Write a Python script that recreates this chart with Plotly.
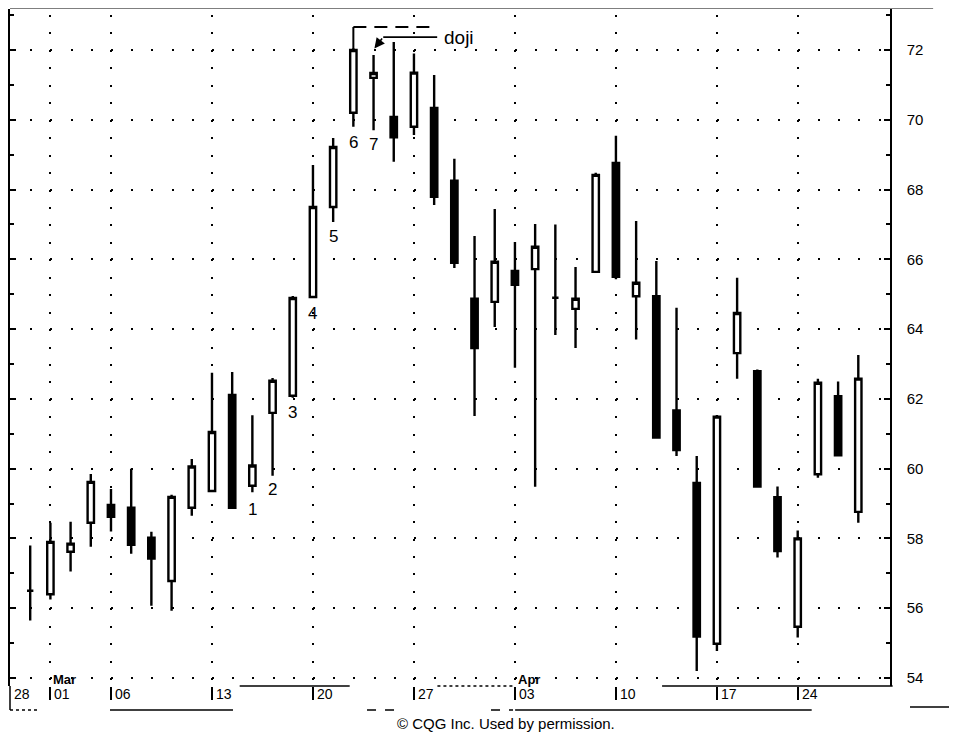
import plotly.graph_objects as go

# ---------------- data ----------------
dates = [
    "2000-02-29", "2000-03-01", "2000-03-02", "2000-03-03",
    "2000-03-06", "2000-03-07", "2000-03-08", "2000-03-09", "2000-03-10",
    "2000-03-13", "2000-03-14", "2000-03-15", "2000-03-16", "2000-03-17",
    "2000-03-20", "2000-03-21", "2000-03-22", "2000-03-23", "2000-03-24",
    "2000-03-27", "2000-03-28", "2000-03-29", "2000-03-30", "2000-03-31",
    "2000-04-03", "2000-04-04", "2000-04-05", "2000-04-06", "2000-04-07",
    "2000-04-10", "2000-04-11", "2000-04-12", "2000-04-13", "2000-04-14",
    "2000-04-17", "2000-04-18", "2000-04-19", "2000-04-20",
    "2000-04-24", "2000-04-25", "2000-04-26", "2000-04-27",
]
opens = [
    56.50, 56.40, 57.62, 58.45,
    58.96, 58.88, 58.02, 56.78, 58.88,
    59.36, 62.11, 59.51, 61.60, 62.09,
    64.92, 67.50, 70.20, 71.20, 70.08,
    69.80, 70.34, 68.25, 64.87, 64.78,
    65.67, 65.72, 64.90, 64.58, 65.64,
    68.76, 64.94, 64.94, 61.67, 59.59,
    54.98, 63.31, 62.79, 59.18,
    55.47, 59.84, 62.08, 58.76,
]
highs = [
    57.80, 58.45, 58.48, 59.85,
    59.42, 60.00, 58.19, 59.25, 60.28,
    62.75, 62.77, 61.53, 62.60, 64.95,
    68.70, 69.48, 72.05, 71.86, 72.23,
    71.90, 71.28, 68.88, 66.67, 67.44,
    66.50, 67.01, 67.00, 65.78, 68.48,
    69.54, 67.10, 65.95, 64.61, 60.36,
    61.54, 65.47, 62.84, 59.49,
    58.23, 62.58, 62.50, 63.26,
]
lows = [
    55.65, 56.25, 57.05, 57.76,
    58.20, 57.56, 56.07, 55.93, 58.65,
    59.36, 58.88, 59.32, 59.80, 62.03,
    64.92, 67.07, 69.80, 69.70, 68.80,
    69.56, 67.56, 65.75, 61.51, 64.06,
    62.89, 59.48, 63.83, 63.46, 65.64,
    65.43, 63.70, 60.89, 60.36, 54.20,
    54.77, 62.58, 59.46, 57.45,
    55.16, 59.74, 60.38, 58.45,
]
closes = [
    56.50, 57.90, 57.85, 59.62,
    58.62, 57.82, 57.42, 59.19, 60.06,
    61.05, 58.88, 60.09, 62.52, 64.89,
    67.50, 69.22, 72.00, 71.34, 69.50,
    71.35, 67.79, 65.90, 63.46, 65.93,
    65.27, 66.36, 64.90, 64.87, 68.42,
    65.50, 65.33, 60.89, 60.53, 55.19,
    61.49, 64.46, 59.49, 57.64,
    58.00, 62.46, 60.38, 62.58,
]

# week tick marks on the date axis
tick_dates = ["2000-03-01", "2000-03-06", "2000-03-13", "2000-03-20", "2000-03-27",
              "2000-04-03", "2000-04-10", "2000-04-17", "2000-04-24"]
tick_labels = ["01", "06", "13", "20", "27", "03", "10", "17", "24"]
first_label_date = "2000-02-28"
first_label = "28"
month_dates = ["2000-03-01", "2000-04-03"]
month_labels = ["Mar", "Apr"]
holidays = ["2000-04-21"]

# numbered candles 1..7
pattern_dates = ["2000-03-15", "2000-03-16", "2000-03-17", "2000-03-20",
                 "2000-03-21", "2000-03-22", "2000-03-23"]
pattern_labels = ["1", "2", "3", "4", "5", "6", "7"]
pattern_label_y = [58.82, 59.39, 61.60, 64.44, 66.64, 69.36, 69.28]

FONT = "Liberation Sans, Arial, Helvetica, sans-serif"

fig = go.Figure(go.Candlestick(
    x=dates, open=opens, high=highs, low=lows, close=closes,
    increasing=dict(fillcolor="white", line=dict(color="black", width=2.4)),
    decreasing=dict(fillcolor="black", line=dict(color="black", width=2.4)),
    whiskerwidth=0, showlegend=False, hoverinfo="skip",
))

annotations = []
# date labels, left aligned after the tick bar
annotations.append(dict(x=first_label_date, y=-0.0118, xref="x", yref="paper",
                        text=first_label, xanchor="left", yanchor="middle", xshift=2,
                        showarrow=False, font=dict(size=14, family=FONT, color="black")))
for d, t in zip(tick_dates, tick_labels):
    annotations.append(dict(x=d, y=-0.0118, xref="x", yref="paper", text=t,
                            xanchor="left", yanchor="middle", xshift=2, showarrow=False,
                            font=dict(size=14, family=FONT, color="black")))
for d, t in zip(month_dates, month_labels):
    annotations.append(dict(x=d, y=0.0103, xref="x", yref="paper", text="<b>%s</b>" % t,
                            xanchor="left", yanchor="middle", xshift=1, showarrow=False,
                            font=dict(size=13, family=FONT, color="black")))
for d, t, yy in zip(pattern_dates, pattern_labels, pattern_label_y):
    annotations.append(dict(x=d, y=yy, xref="x", yref="y", text=t, showarrow=False,
                            xanchor="center", yanchor="middle",
                            font=dict(size=17, family=FONT, color="black")))
# doji call-out
annotations.append(dict(x="2000-03-28 09:36", y=72.37, xref="x", yref="y", text="doji",
                        xanchor="left", yanchor="middle", showarrow=False,
                        font=dict(size=19, family=FONT, color="black")))
annotations.append(dict(x="2000-03-23 01:00", y=72.04, xref="x", yref="y", text="",
                        showarrow=True, axref="x", ayref="y",
                        ax="2000-03-23 11:30", ay=72.37,
                        arrowhead=2, arrowsize=1.3, arrowwidth=1.6, arrowcolor="black"))
# copyright
annotations.append(dict(x=0.5636, y=-0.0547, xref="paper", yref="paper",
                        text="© CQG Inc. Used by permission.", showarrow=False,
                        xanchor="center", yanchor="middle",
                        font=dict(size=15, family=FONT, color="black")))

shapes = []
def pline(x0, y0, x1, y1, dash="solid", w=1.5):
    shapes.append(dict(type="line", xref="paper", yref="paper", x0=x0, y0=y0, x1=x1, y1=y1,
                       line=dict(color="black", width=w, dash=dash)))

pline(0, 1.002, 1.049, 1.002)                 # top frame line
pline(0, 0, 0, -0.0355)                       # left frame down into label row
pline(0, -0.0355, 0.031, -0.0355, dash="dot")
pline(0.261, 0.0, 0.386, 0.0)                 # week separators (scan style)
pline(0.741, 0.0, 1.003, 0.0)
pline(0.4857, 0.0, 0.5716, 0.0, dash="dot")
pline(0.1136, -0.0355, 0.2534, -0.0355)
pline(0.4057, -0.0355, 0.443, -0.0355, dash="dash")
pline(0.5466, -0.0355, 0.5716, -0.0355, dash="dash")
pline(0.574, -0.0355, 0.911, -0.0355)
pline(1.0227, -0.031, 1.076, -0.031)

# doji bracket
shapes.append(dict(type="line", xref="x", yref="y", x0="2000-03-22", y0=72.0,
                   x1="2000-03-22", y1=72.66, line=dict(color="black", width=2)))
shapes.append(dict(type="line", xref="x", yref="y", x0="2000-03-22", y0=72.66,
                   x1="2000-03-28 03:36", y1=72.66,
                   line=dict(color="black", width=2, dash="13px,8px")))
shapes.append(dict(type="line", xref="x", yref="y", x0="2000-03-23 11:30", y0=72.37,
                   x1="2000-03-28 03:36", y1=72.37, line=dict(color="black", width=1.6)))

# the page body adds an 8px offset, so the figure is 8px smaller and margins shifted
fig.update_layout(
    width=949, height=725,
    margin=dict(l=2, r=67, t=1, b=47),
    paper_bgcolor="white", plot_bgcolor="white",
    boxgap=0.55,
    showlegend=False,
    font=dict(family=FONT, color="black"),
    annotations=annotations,
    shapes=shapes,
    xaxis=dict(
        type="date",
        range=["2000-02-28", "2000-04-28 13:40"],
        rangebreaks=[dict(bounds=["sat", "mon"]), dict(values=holidays)],
        rangeslider=dict(visible=False),
        tickmode="array", tickvals=tick_dates, showticklabels=False,
        ticks="outside", ticklen=13, tickwidth=1.5, tickcolor="black",
        showgrid=True, gridcolor="black", gridwidth=1.5, griddash="0px,6px,2px,9.45px",
        showline=False, zeroline=False,
    ),
    yaxis=dict(
        side="right", range=[53.77, 73.175],
        tickmode="linear", tick0=54, dtick=2,
        ticks="inside", ticklen=6, tickwidth=1.5, tickcolor="black",
        minor=dict(dtick=1, tick0=54, ticks="inside", ticklen=4, tickcolor="black",
                   showgrid=False),
        showline=True, linecolor="black", linewidth=1.5, mirror="ticks",
        showgrid=True, gridcolor="black", gridwidth=1.5, griddash="2px,18.2px",
        zeroline=False,
        tickfont=dict(size=15, family=FONT, color="black"),
        ticklabelstandoff=12,
    ),
)

fig.write_html("out.html")
